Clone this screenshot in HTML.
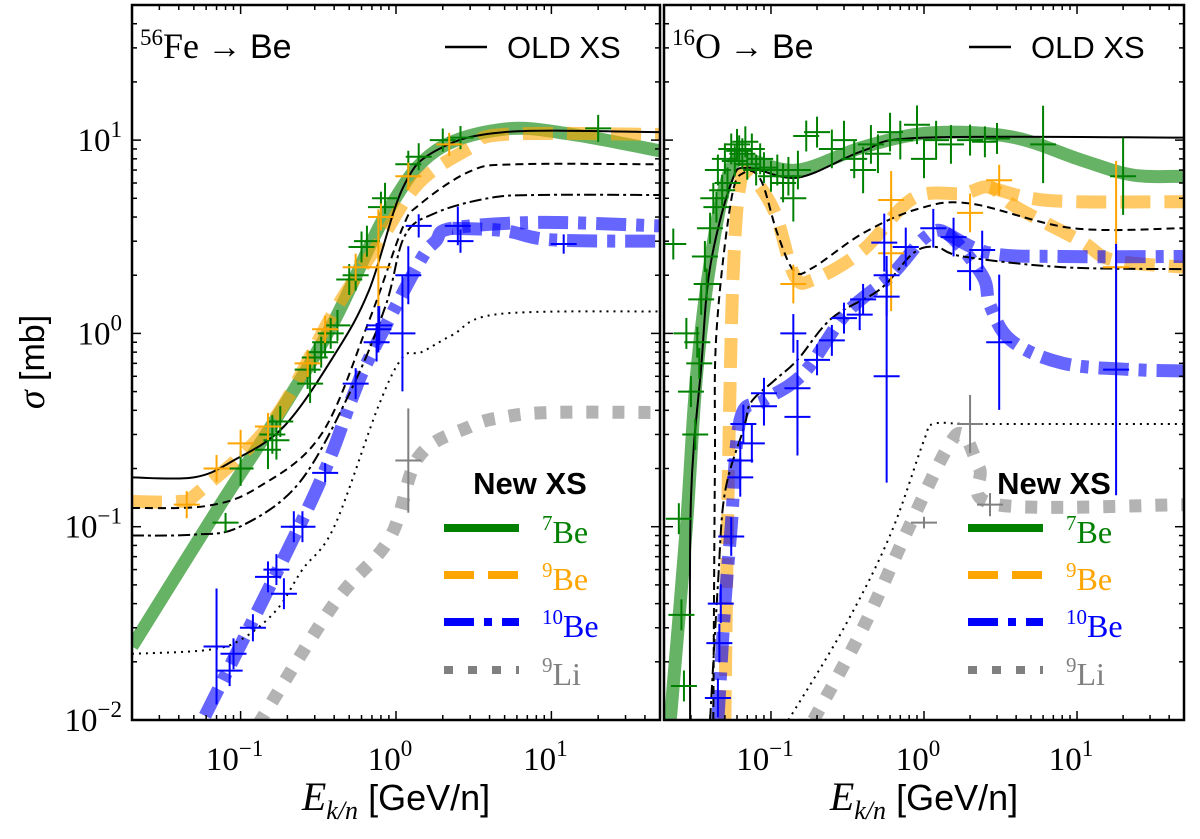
<!DOCTYPE html>
<html><head><meta charset="utf-8"><style>
html,body{margin:0;padding:0;background:#fff;}
svg{display:block;font-family:"Liberation Sans",sans-serif;}
</style></head><body>
<svg id="chart" width="1200" height="839" viewBox="0 0 1200 839" xmlns="http://www.w3.org/2000/svg"></svg>
<script>
// ---------- Data: Fe -> Be (left panel) ----------
const feOldSolidE=[0.02,0.05,0.09,0.19,0.4,0.67,1.1,1.8,5,50];
const feOldSolidS=[0.18,0.18,0.22,0.33,0.77,1.67,5.6,8.8,11,11];
const feOldDashE=[0.02,0.06,0.13,0.33,0.67,1.1,1.4,3,6,50];
const feOldDashS=[0.125,0.128,0.16,0.30,1.16,3.5,4.6,6.9,7.5,7.5];
const feOldDashDotE=[0.02,0.05,0.099,0.24,0.52,0.86,1.14,1.8,3.9,8,50];
const feOldDashDotS=[0.09,0.091,0.10,0.17,0.52,1.4,3.2,4.2,5.0,5.2,5.2];
const feOldDotE=[0.02,0.06,0.1,0.17,0.25,0.4,0.77,1.1,1.46,2.3,4.6,50];
const feOldDotS=[0.022,0.023,0.026,0.037,0.06,0.10,0.42,0.75,0.80,0.98,1.26,1.3];
const feBe7E=[0.02,0.072,0.19,0.4,0.9,1.8,5,13.7,50];
const feBe7S=[0.024,0.125,0.42,1.16,4.4,8.8,11.4,10.7,8.8];
const feBe9E=[0.02,0.04,0.053,0.16,0.4,0.77,1.4,3,5,50];
const feBe9S=[0.135,0.135,0.15,0.35,1.3,2.9,6.0,9.1,10.7,10.7];
const feBe10E=[0.059,0.29,0.52,0.67,1.4,1.8,2.3,8.4,50];
const feBe10S=[0.0105,0.14,0.46,0.74,2.3,3.0,3.5,3.75,3.6];
const feBe10bE=[2.3,5,10,50];
const feBe10bS=[3.5,3.4,3.05,3.0];
const feLi9E=[0.13,0.4,0.91,1.4,3,5,10,50];
const feLi9S=[0.0095,0.04,0.087,0.23,0.33,0.37,0.39,0.39];
const feGreenE=[0.08,0.1,0.15,0.16,0.17,0.18,0.27,0.28,0.3,0.33,0.35,0.38,0.42,0.5,0.55,0.6,0.65,0.8,0.85,1.2,1.4,2.0,2.6,20];
const feGreenS=[0.105,0.2,0.25,0.3,0.28,0.35,0.65,0.55,0.75,0.8,0.9,1.0,1.1,1.9,2.0,2.8,3.0,4.5,5.0,7.5,8.2,10.0,10.3,11.5];
const feGreenErr=[0.05,0.09,0.1,0.1,0.1,0.08,0.1,0.1,0.08,0.08,0.08,0.08,0.08,0.08,0.08,0.08,0.08,0.08,0.08,0.07,0.07,0.06,0.06,0.07];
const feOrangeE=[0.045,0.07,0.1,0.15,0.27,0.35,0.55,0.8,0.77,1.2,2.2];
const feOrangeS=[0.13,0.2,0.27,0.33,0.7,1.05,2.2,4.0,2.2,6.5,9.5];
const feOrangeErr=[0.07,0.07,0.07,0.07,0.07,0.07,0.07,0.07,0.3,0.07,0.06];
const feBlueE=[0.07,0.085,0.09,0.12,0.15,0.17,0.19,0.22,0.25,0.35,0.55,0.75,0.77,0.78,1.1,1.2,1.4,2.5,2.6,12];
const feBlueS=[0.024,0.018,0.022,0.03,0.055,0.06,0.045,0.1,0.1,0.19,0.55,0.9,1.05,1.1,1.0,2.0,3.6,3.6,3.0,2.9];
const feBlueErr=[0.3,0.08,0.08,0.07,0.08,0.08,0.08,0.08,0.08,0.05,0.08,0.1,0.12,0.1,0.3,0.15,0.06,0.1,0.06,0.05];
const feGrayE=[1.2];
const feGrayS=[0.22];
const feGrayErr=[0.27];
// ---------- Data: O -> Be (right panel) ----------
const oOldSolidE=[0.0296,0.030,0.035,0.040,0.055,0.07,0.15,0.4,1.0,50];
const oOldSolidS=[0.01,0.137,0.67,2.2,6.0,7.2,6.4,8.8,10.3,10.3];
const oOldDashE=[0.042,0.043,0.044,0.055,0.067,0.086,0.11,0.142,0.19,0.4,0.91,2.0,9.4,50];
const oOldDashS=[0.01,0.2,1.0,4.9,6.8,6.2,3.3,2.1,2.2,3.3,4.4,4.7,3.5,3.5];
const oOldDashDotE=[0.040,0.045,0.05,0.067,0.074,0.105,0.149,0.25,0.52,0.85,1.2,1.8,8.1,50];
const oOldDashDotS=[0.01,0.05,0.15,0.33,0.44,0.57,0.73,1.2,1.7,2.6,2.8,2.5,2.2,2.15];
const oOldDotE=[0.13,0.3,0.6,1.0,1.15,2,8,50];
const oOldDotS=[0.01,0.03,0.09,0.28,0.34,0.34,0.34,0.34];
const oBe7E=[0.022,0.028,0.033,0.043,0.055,0.07,0.149,0.4,1.1,3.7,10.6,23,50];
const oBe7S=[0.01,0.1,0.67,3.3,7.2,7.9,7.0,9.2,10.9,10.4,7.9,6.6,6.5];
const oBe9E=[0.05,0.052,0.055,0.058,0.062,0.07,0.105,0.142,0.19,0.4,0.85,1.8,2.7,4.0,10.6,17,50];
const oBe9S=[0.01,0.1,1.0,3.0,5.5,6.8,4.3,2.0,1.9,2.7,5.0,5.3,5.7,4.5,3.0,2.4,2.2];
const oBe9bE=[2.7,5,10,50];
const oBe9bS=[5.7,5.0,4.8,4.8];
const oBe10E=[0.045,0.05,0.055,0.063,0.09,0.163,0.31,0.61,1.0,1.4,2.4,2.7,3.7,8.1,23,50];
const oBe10S=[0.01,0.04,0.1,0.36,0.45,0.62,1.27,2.0,3.1,3.3,2.0,1.4,0.92,0.70,0.65,0.64];
const oBe10bE=[1.4,2.7,8,50];
const oBe10bS=[3.3,2.6,2.5,2.5];
const oLi9E=[0.19,0.4,0.8,1.4,1.8,2.3,3,50];
const oLi9S=[0.01,0.03,0.1,0.25,0.3,0.2,0.13,0.13];
const oGreenE=[0.023,0.025,0.026,0.027,0.028,0.03,0.032,0.033,0.034,0.035,0.037,0.038,0.04,0.042,0.044,0.045,0.048,0.05,0.052,0.055,0.058,0.06,0.062,0.065,0.068,0.07,0.075,0.08,0.085,0.09,0.1,0.11,0.12,0.13,0.14,0.15,0.17,0.2,0.25,0.3,0.35,0.4,0.45,0.5,0.6,0.7,0.9,1.0,1.2,1.5,2,2.5,3,6,20];
const oGreenS=[2.9,0.11,0.035,0.015,1.0,0.5,0.3,0.9,0.7,1.5,2.5,1.8,3.5,5,4.5,7,5.5,8,6,9,7.8,9.5,8.8,8.5,9.8,7.5,9,7,8,7.2,6.5,7,6,6.5,5,7,10.5,11,9,10,8,7,9.5,8.5,11,10,12,8,10,9.5,10,9.8,10.2,9.5,6.5];
const oGreenErr=[0.08,0.08,0.08,0.08,0.08,0.08,0.08,0.08,0.08,0.08,0.08,0.08,0.08,0.08,0.08,0.08,0.08,0.08,0.08,0.08,0.08,0.08,0.08,0.08,0.08,0.08,0.08,0.08,0.08,0.08,0.08,0.08,0.1,0.1,0.12,0.1,0.08,0.08,0.1,0.1,0.1,0.12,0.1,0.1,0.1,0.1,0.1,0.1,0.1,0.1,0.08,0.08,0.08,0.2,0.2];
const oOrangeE=[0.14,0.61,0.61,2.0,3.1,18];
const oOrangeS=[1.8,4.9,2.6,4.2,6.2,2.2];
const oOrangeErr=[0.1,0.15,0.3,0.1,0.08,0.55];
const oBlueE=[0.045,0.046,0.047,0.055,0.063,0.063,0.066,0.075,0.09,0.09,0.14,0.149,0.149,0.2,0.25,0.3,0.38,0.4,0.57,0.57,0.55,0.57,0.76,1.15,1.56,2.0,2.4,3.1,18];
const oBlueS=[0.013,0.025,0.04,0.089,0.18,0.22,0.34,0.27,0.49,0.42,1.0,0.52,0.37,0.73,0.92,1.2,1.25,1.5,1.55,2.0,2.95,0.6,2.8,3.5,3.15,2.1,2.7,0.9,0.65];
const oBlueErr=[0.1,0.1,0.1,0.1,0.1,0.1,0.1,0.1,0.08,0.1,0.1,0.25,0.2,0.08,0.08,0.08,0.08,0.08,0.1,0.1,0.15,0.55,0.1,0.1,0.1,0.1,0.1,0.35,0.65];
const oGrayE=[1.0,2.0,2.7];
const oGrayS=[0.105,0.34,0.13];
const oGrayErr=[0.03,0.15,0.06];

const NS='http://www.w3.org/2000/svg';
const svg=document.getElementById('chart');
const TOP=5,BOT=720,LX0=Math.log10(0.02),LX1=Math.log10(50),LY0=-2,LY1=Math.log10(50);
function mk(tag,attrs,parent){const e=document.createElementNS(NS,tag);for(const k in attrs)e.setAttribute(k,attrs[k]);(parent||svg).appendChild(e);return e;}
function ys(s){return BOT-(Math.log10(s)-LY0)/(LY1-LY0)*(BOT-TOP);}

function smoothPath(P){
  let d='M'+P[0][0].toFixed(1)+','+P[0][1].toFixed(1);
  for(let i=0;i<P.length-1;i++){
    const p0=P[Math.max(0,i-1)],p1=P[i],p2=P[i+1],p3=P[Math.min(P.length-1,i+2)];
    const t=0.17;
    const c1=[p1[0]+(p2[0]-p0[0])*t,p1[1]+(p2[1]-p0[1])*t];
    const c2=[p2[0]-(p3[0]-p1[0])*t,p2[1]-(p3[1]-p1[1])*t];
    d+='C'+c1[0].toFixed(1)+','+c1[1].toFixed(1)+' '+c2[0].toFixed(1)+','+c2[1].toFixed(1)+' '+p2[0].toFixed(1)+','+p2[1].toFixed(1);
  }
  return d;
}

function panel(id,x0,w,d){
  const xs=E=>x0+(Math.log10(E)-LX0)/(LX1-LX0)*w;
  const g=mk('g',{});
  
  
  const cp=mk('clipPath',{id:'clip-'+id},g);
  mk('rect',{x:x0,y:TOP,width:w,height:BOT-TOP},cp);
  const pg=mk('g',{'clip-path':'url(#clip-'+id+')'},g);
  function line(E,S,style,name){
    const P=[];for(let i=0;i<E.length;i++)P.push([xs(E[i]),ys(S[i])]);
    const el=mk('path',Object.assign({d:smoothPath(P),fill:'none','stroke-linejoin':'round'},style),pg);
    
    
  }
  function pts(E,S,Er,color,name){
    const gg=mk('g',{stroke:color,'stroke-width':2},pg);
    
    
    for(let i=0;i<E.length;i++){
      const x=xs(E[i]),y=ys(S[i]),dy=Er[i]*(BOT-TOP)/(LY1-LY0);
      mk('line',{x1:x-13,x2:x+13,y1:y,y2:y},gg);
      mk('line',{x1:x,x2:x,y1:y-dy,y2:y+dy},gg);
    }
  }
  const band={'stroke-width':13,'stroke-opacity':0.6};
  line(d.b7E,d.b7S,Object.assign({stroke:'#008000'},band),id+'-be7-new-band');
  line(d.b9E,d.b9S,Object.assign({stroke:'#ffa500','stroke-dasharray':'30 14'},band),id+'-be9-new-band');
  if(d.b9bE)line(d.b9bE,d.b9bS,Object.assign({stroke:'#ffa500','stroke-dasharray':'30 14'},band),id+'-be9-new-band-b');
  line(d.b10E,d.b10S,Object.assign({stroke:'#0000ff','stroke-dasharray':'30 10 8 10'},band),id+'-be10-new-band');
  line(d.b10bE,d.b10bS,Object.assign({stroke:'#0000ff','stroke-dasharray':'30 10 8 10'},band),id+'-be10-new-band-b');
  line(d.liE,d.liS,Object.assign({stroke:'#808080','stroke-dasharray':'12 14'},band),id+'-li9-new-band');
  const ol={stroke:'#000','stroke-width':2};
  line(d.osE,d.osS,ol,id+'-be7-old-line');
  line(d.odE,d.odS,Object.assign({'stroke-dasharray':'8 5'},ol),id+'-be9-old-line');
  line(d.oddE,d.oddS,Object.assign({'stroke-dasharray':'12 4 3 4'},ol),id+'-be10-old-line');
  line(d.odtE,d.odtS,Object.assign({'stroke-dasharray':'2 5'},ol),id+'-li9-old-line');
  pts(d.gE,d.gS,d.gErr,'#008000',id+'-be7-data');
  pts(d.orE,d.orS,d.orErr,'#ffa500',id+'-be9-data');
  pts(d.blE,d.blS,d.blErr,'#0000ff',id+'-be10-data');
  pts(d.grE,d.grS,d.grErr,'#808080',id+'-li9-data');
  const fr=mk('rect',{x:x0,y:TOP,width:w,height:BOT-TOP,fill:'none',stroke:'#000','stroke-width':2.5},g);
  
  const tk=mk('g',{stroke:'#000','stroke-width':1.5},g);
  for(let dec=-2;dec<=1;dec++)for(let m=1;m<10;m++){
    const E=m*Math.pow(10,dec);if(E<0.02||E>50)continue;const x=xs(E),L=m==1?9:5;
    mk('line',{x1:x,x2:x,y1:BOT,y2:BOT-L},tk);mk('line',{x1:x,x2:x,y1:TOP,y2:TOP+L},tk);
  }
  for(let dec=-2;dec<=1;dec++)for(let m=1;m<10;m++){
    const s=m*Math.pow(10,dec);if(s>50)continue;const y=ys(s),L=m==1?9:5;
    mk('line',{x1:x0,x2:x0+L,y1:y,y2:y},tk);mk('line',{x1:x0+w,x2:x0+w-L,y1:y,y2:y},tk);
  }
  [-1,0,1].forEach(p=>{const t=mk('text',{x:xs(Math.pow(10,p))-6,y:770,'text-anchor':'middle','font-family':'Liberation Serif,serif','font-size':33},g);
    t.innerHTML='10<tspan dy="-14" font-size="23">'+(p<0?'−'+(-p):p)+'</tspan>';
    });
  const xt=mk('text',{x:x0+w/2,y:810,'text-anchor':'middle','font-size':36},g);
  xt.innerHTML='<tspan font-family="Liberation Serif,serif" font-style="italic" font-size="40">E</tspan><tspan font-family="Liberation Serif,serif" font-style="italic" font-size="26" dy="9">k/n</tspan><tspan dy="-9"> [GeV/n]</tspan>';
  
  const tt=mk('text',{x:x0+8,y:58,'font-size':34},g);
  tt.innerHTML='<tspan font-family="Liberation Serif,serif" font-size="23" dy="-13">'+d.mass+'</tspan><tspan font-family="Liberation Serif,serif" font-size="36" dy="13">'+d.el+'</tspan><tspan font-family="Liberation Serif,serif"> → </tspan>Be';
  
  const ox=x0+w-215;
  const og=mk('g',{},g);
  mk('line',{x1:ox,x2:ox+42,y1:47,y2:47,stroke:'#000','stroke-width':2.5},og);
  const ot=mk('text',{x:ox+62,y:58,'font-size':31},og);ot.textContent='OLD XS';
  const lx=x0+w-212;
  const ng=mk('g',{},g);
  const nt=mk('text',{x:lx+82,y:494,'font-size':31,'font-weight':'bold','text-anchor':'middle'},ng);nt.textContent='New XS';
  const ent=[['#008000','','7','Be',528],['#ffa500','30 14','9','Be',575],['#0000ff','30 10 8 10','10','Be',622],['#808080','9 15','9','Li',670]];
  ent.forEach(e=>{
    const eg=mk('g',{},ng);
    mk('line',{x1:lx-4,x2:lx+71,y1:e[4],y2:e[4],stroke:e[0],'stroke-width':8,'stroke-dasharray':e[1]||'none'},eg);
    const t=mk('text',{x:lx+94,y:e[4]+15,'font-family':'Liberation Serif,serif','font-size':32,fill:e[0]},eg);
    t.innerHTML='<tspan font-size="21" dy="-13">'+e[2]+'</tspan><tspan dy="13">'+e[3]+'</tspan>';
  });
}
panel('fe',132,528,{mass:'56',el:'Fe',b7E:feBe7E,b7S:feBe7S,b9E:feBe9E,b9S:feBe9S,b10E:feBe10E,b10S:feBe10S,b10bE:feBe10bE,b10bS:feBe10bS,liE:feLi9E,liS:feLi9S,
 osE:feOldSolidE,osS:feOldSolidS,odE:feOldDashE,odS:feOldDashS,oddE:feOldDashDotE,oddS:feOldDashDotS,odtE:feOldDotE,odtS:feOldDotS,
 gE:feGreenE,gS:feGreenS,gErr:feGreenErr,orE:feOrangeE,orS:feOrangeS,orErr:feOrangeErr,blE:feBlueE,blS:feBlueS,blErr:feBlueErr,grE:feGrayE,grS:feGrayS,grErr:feGrayErr});
panel('o',664,520,{mass:'16',el:'O',b7E:oBe7E,b7S:oBe7S,b9E:oBe9E,b9S:oBe9S,b9bE:oBe9bE,b9bS:oBe9bS,b10E:oBe10E,b10S:oBe10S,b10bE:oBe10bE,b10bS:oBe10bS,liE:oLi9E,liS:oLi9S,
 osE:oOldSolidE,osS:oOldSolidS,odE:oOldDashE,odS:oOldDashS,oddE:oOldDashDotE,oddS:oOldDashDotS,odtE:oOldDotE,odtS:oOldDotS,
 gE:oGreenE,gS:oGreenS,gErr:oGreenErr,orE:oOrangeE,orS:oOrangeS,orErr:oOrangeErr,blE:oBlueE,blS:oBlueS,blErr:oBlueErr,grE:oGrayE,grS:oGrayS,grErr:oGrayErr});
[-2,-1,0,1].forEach(p=>{const t=mk('text',{x:122,y:ys(Math.pow(10,p))+11,'text-anchor':'end','font-family':'Liberation Serif,serif','font-size':33});
  t.innerHTML='10<tspan dy="-14" font-size="23">'+(p<0?'−'+(-p):p)+'</tspan>';
  });
const yt=mk('text',{transform:'translate(44,362) rotate(-90)','text-anchor':'middle','font-size':34});
yt.innerHTML='<tspan font-family="Liberation Serif,serif" font-style="italic" font-size="38">σ</tspan> [mb]';


</script>
</body></html>
